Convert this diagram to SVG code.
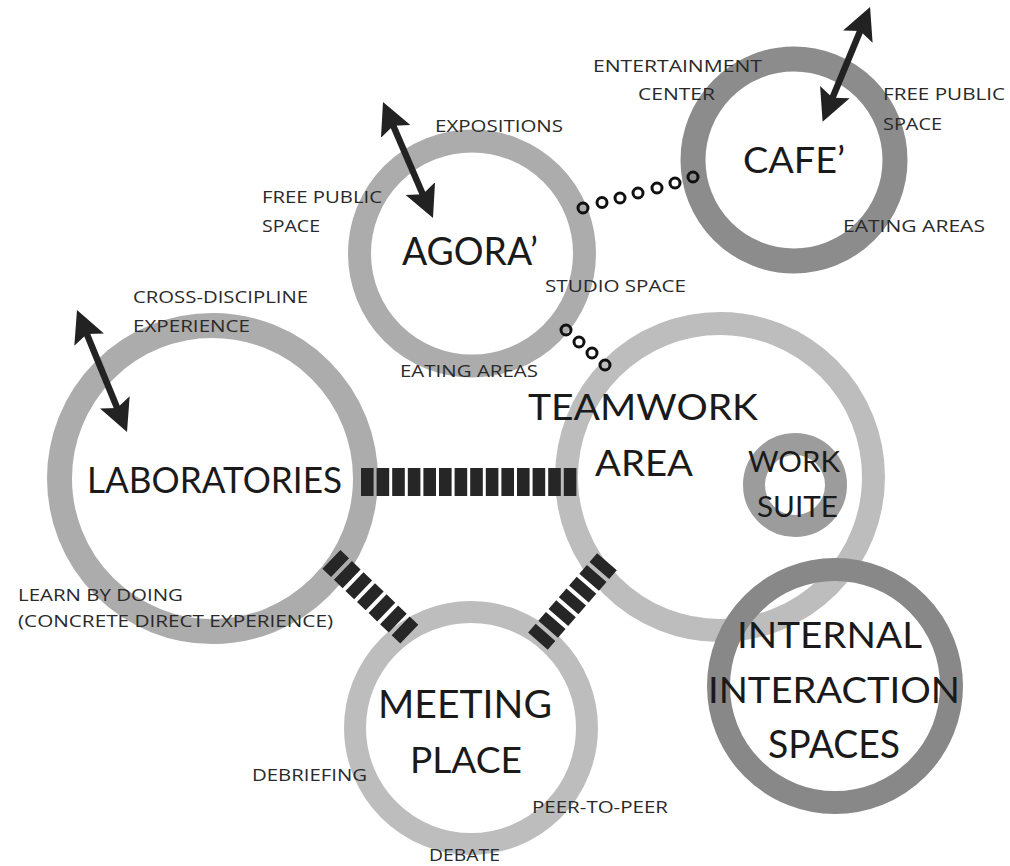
<svg xmlns="http://www.w3.org/2000/svg" width="1010" height="866" viewBox="0 0 1010 866">
<style>
.ring{fill:none}
.big{font-family:Lato,"Open Sans","Liberation Sans",sans-serif;font-size:36px;fill:#1a1a1a}
.sm{font-family:"Open Sans",Lato,"Liberation Sans",sans-serif;font-size:17px;fill:#2a2a2a}
.dots circle{fill:none;stroke:#111;stroke-width:3}
.bars{stroke:#262626;fill:none}
.arr{stroke:#222;stroke-width:6.5;fill:none}
</style>
<defs>
<marker id="ah" markerUnits="userSpaceOnUse" viewBox="0 -17 34 34" markerWidth="34" markerHeight="34" refX="8" refY="0" orient="auto-start-reverse">
<path d="M32,0 L0,-16 L6,0 L0,16 Z" fill="#222"/>
</marker>
</defs>
<rect width="1010" height="866" fill="#fff"/>

<g id="laboratories">
<circle class="ring" cx="212.5" cy="478.5" r="153" stroke="#acacac" stroke-width="25"/>
<text class="big" x="87" y="493" textLength="255" lengthAdjust="spacingAndGlyphs">LABORATORIES</text>
<text class="sm" x="133" y="303" textLength="175" lengthAdjust="spacingAndGlyphs">CROSS-DISCIPLINE</text>
<text class="sm" x="133" y="332" textLength="117" lengthAdjust="spacingAndGlyphs">EXPERIENCE</text>
<text class="sm" x="18" y="601" textLength="165" lengthAdjust="spacingAndGlyphs">LEARN BY DOING</text>
<text class="sm" x="18" y="627" textLength="315" lengthAdjust="spacingAndGlyphs">(CONCRETE DIRECT EXPERIENCE)</text>
</g>

<g id="agora">
<circle class="ring" cx="472" cy="253.5" r="112.5" stroke="#acacac" stroke-width="23"/>
<text class="big" x="402" y="265" style="font-size:38px" textLength="136" lengthAdjust="spacingAndGlyphs">AGORA’</text>
<text class="sm" x="435" y="132" textLength="128" lengthAdjust="spacingAndGlyphs">EXPOSITIONS</text>
<text class="sm" x="262" y="203" textLength="120" lengthAdjust="spacingAndGlyphs">FREE PUBLIC</text>
<text class="sm" x="262" y="232" textLength="58" lengthAdjust="spacingAndGlyphs">SPACE</text>
<text class="sm" x="545" y="292" textLength="141" lengthAdjust="spacingAndGlyphs">STUDIO SPACE</text>
<text class="sm" x="400" y="377" textLength="138" lengthAdjust="spacingAndGlyphs">EATING AREAS</text>
</g>

<g id="cafe">
<circle class="ring" cx="794" cy="160" r="101" stroke="#8c8c8c" stroke-width="25"/>
<text class="big" x="743" y="173" textLength="102" lengthAdjust="spacingAndGlyphs">CAFE’</text>
<text class="sm" x="593" y="72" textLength="169" lengthAdjust="spacingAndGlyphs">ENTERTAINMENT</text>
<text class="sm" x="638" y="100" textLength="77" lengthAdjust="spacingAndGlyphs">CENTER</text>
<text class="sm" x="883" y="100" textLength="122" lengthAdjust="spacingAndGlyphs">FREE PUBLIC</text>
<text class="sm" x="883" y="130" textLength="59" lengthAdjust="spacingAndGlyphs">SPACE</text>
<text class="sm" x="843" y="232" textLength="142" lengthAdjust="spacingAndGlyphs">EATING AREAS</text>
</g>

<g id="teamwork-area">
<circle class="ring" cx="720" cy="477" r="153.5" stroke="#bdbdbd" stroke-width="23"/>
<text class="big" x="528" y="420" textLength="230" lengthAdjust="spacingAndGlyphs">TEAMWORK</text>
<text class="big" x="595" y="476" textLength="98" lengthAdjust="spacingAndGlyphs">AREA</text>
</g>

<g id="work-suite">
<circle class="ring" cx="795" cy="485" r="41" stroke="#9c9c9c" stroke-width="22"/>
<text class="big" x="748" y="472" style="font-size:28px" textLength="92" lengthAdjust="spacingAndGlyphs">WORK</text>
<text class="big" x="757" y="517" style="font-size:29px" textLength="81" lengthAdjust="spacingAndGlyphs">SUITE</text>
</g>

<g id="internal-interaction-spaces">
<circle class="ring" cx="835" cy="686" r="116.5" stroke="#888" stroke-width="23"/>
<text class="big" x="737" y="648" textLength="185" lengthAdjust="spacingAndGlyphs">INTERNAL</text>
<text class="big" x="708" y="703" textLength="252" lengthAdjust="spacingAndGlyphs">INTERACTION</text>
<text class="big" x="768" y="758" style="font-size:38px" textLength="132" lengthAdjust="spacingAndGlyphs">SPACES</text>
</g>

<g id="meeting-place">
<circle class="ring" cx="471" cy="728" r="116" stroke="#bdbdbd" stroke-width="22"/>
<text class="big" x="378" y="718" style="font-size:38px" textLength="174" lengthAdjust="spacingAndGlyphs">MEETING</text>
<text class="big" x="410" y="773" textLength="112" lengthAdjust="spacingAndGlyphs">PLACE</text>
<text class="sm" x="252" y="781" textLength="115" lengthAdjust="spacingAndGlyphs">DEBRIEFING</text>
<text class="sm" x="532" y="813" textLength="136" lengthAdjust="spacingAndGlyphs">PEER-TO-PEER</text>
<text class="sm" x="429" y="861" textLength="71" lengthAdjust="spacingAndGlyphs">DEBATE</text>
</g>

<g id="connectors">
<g class="dots">
<circle cx="583" cy="208" r="5"/>
<circle cx="602" cy="202.5" r="5"/>
<circle cx="620" cy="198" r="5"/>
<circle cx="638" cy="193" r="5"/>
<circle cx="657" cy="188" r="5"/>
<circle cx="675" cy="183" r="5"/>
<circle cx="693" cy="177" r="5"/>
<circle cx="566" cy="330" r="5"/>
<circle cx="579" cy="342" r="5"/>
<circle cx="592" cy="353" r="5"/>
<circle cx="605" cy="365" r="5"/>
</g>
<line class="bars" x1="361" y1="482" x2="576.5" y2="482" stroke-width="28" stroke-dasharray="12.6 3"/>
<line class="bars" x1="331.4" y1="559.4" x2="409.3" y2="634.2" stroke-width="26" stroke-dasharray="12 4"/>
<line class="bars" x1="537.9" y1="641.1" x2="607.1" y2="561.6" stroke-width="26" stroke-dasharray="11.6 4"/>
<line class="arr" x1="860.9" y1="29.2" x2="831.8" y2="99.5" marker-start="url(#ah)" marker-end="url(#ah)"/>
<line class="arr" x1="392.5" y1="124" x2="423.5" y2="196" marker-start="url(#ah)" marker-end="url(#ah)"/>
<line class="arr" x1="86.1" y1="332.2" x2="117.9" y2="409.8" marker-start="url(#ah)" marker-end="url(#ah)"/>
</g>
</svg>
